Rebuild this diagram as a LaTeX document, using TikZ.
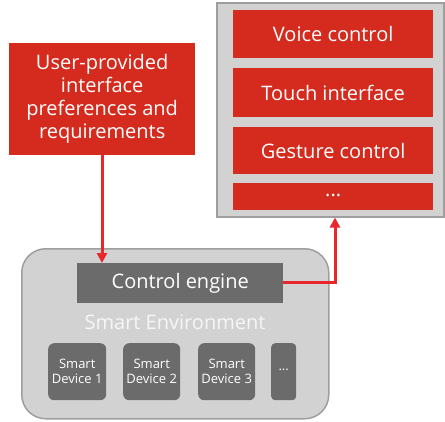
\documentclass[tikz,border=0pt]{standalone}
\usepackage{fontspec}
\setmainfont{Open Sans}
\usetikzlibrary{arrows.meta}
\definecolor{boxred}{HTML}{D52B1E}
\definecolor{linkred}{HTML}{E8262C}
\definecolor{panelgray}{HTML}{D2D2D2}
\definecolor{edgegray}{HTML}{9E9E9E}
\definecolor{darkgray}{HTML}{6B6B6B}
\definecolor{softwhite}{HTML}{F6F6F6}
\tikzset{
  bigtext/.style={font=\fontsize{20}{23}\selectfont},
  redbox/.style={fill=boxred, draw=none, text=white, bigtext, align=center, inner sep=0pt},
  devbox/.style={fill=darkgray, draw=none, rounded corners=6pt, text=white, font=\fontsize{13}{15}\selectfont, align=center, inner sep=0pt},
  link/.style={linkred, line width=3pt, -{Triangle[length=10pt,width=10pt]}}
}
\begin{document}
\begin{tikzpicture}[x=1pt,y=-1pt]
  \useasboundingbox (0,0) rectangle (445,421);
  % interface panel
  \node[fill=panelgray, draw=edgegray, line width=1.5pt, minimum width=227pt, minimum height=214pt, anchor=north west] (panel) at (216,2) {};
  \node[redbox, minimum width=200pt, minimum height=48pt, anchor=north west] (voice) at (233,10) {Voice control};
  \node[redbox, minimum width=200pt, minimum height=49pt, anchor=north west] (touch) at (233,68) {Touch interface};
  \node[redbox, minimum width=200pt, minimum height=47pt, anchor=north west] (gesture) at (233,127) {Gesture control};
  \node[redbox, minimum width=200pt, minimum height=27pt, anchor=north west] (more) at (233,183) {\raisebox{3pt}{...}};
  % user requirements
  \node[redbox, minimum width=186pt, minimum height=112pt, anchor=north west] (user) at (9,43) {User-provided\\interface\\preferences and\\requirements};
  % smart environment
  \node[fill=panelgray, draw=edgegray, line width=1.5pt, rounded corners=24pt, minimum width=307pt, minimum height=170pt, anchor=north west] (env) at (21,248) {};
  \node[fill=darkgray, text=white, inner sep=0pt, minimum width=206pt, minimum height=40pt, anchor=north west, bigtext] (engine) at (77,263) {Control engine};
  \node[text=softwhite, bigtext] (envlabel) at (175,322) {Smart Environment};
  \node[devbox, minimum width=58pt, minimum height=57pt, anchor=north west] (dev1) at (48,343) {Smart\\Device 1};
  \node[devbox, minimum width=57pt, minimum height=57pt, anchor=north west] (dev2) at (123,343) {Smart\\Device 2};
  \node[devbox, minimum width=57pt, minimum height=57pt, anchor=north west] (dev3) at (198,343) {Smart\\Device 3};
  \node[devbox, rounded corners=4pt, minimum width=25pt, minimum height=57pt, anchor=north west] (devmore) at (271,343) {\raisebox{3pt}{...}};
  % connectors
  \draw[link] (user.south -| 102,0) -- (engine.north -| 102,0);
  \coordinate (bend) at (335,282);
  \draw[link] (engine.east |- bend) -- (bend) -- (bend |- panel.south);
\end{tikzpicture}
\end{document}
